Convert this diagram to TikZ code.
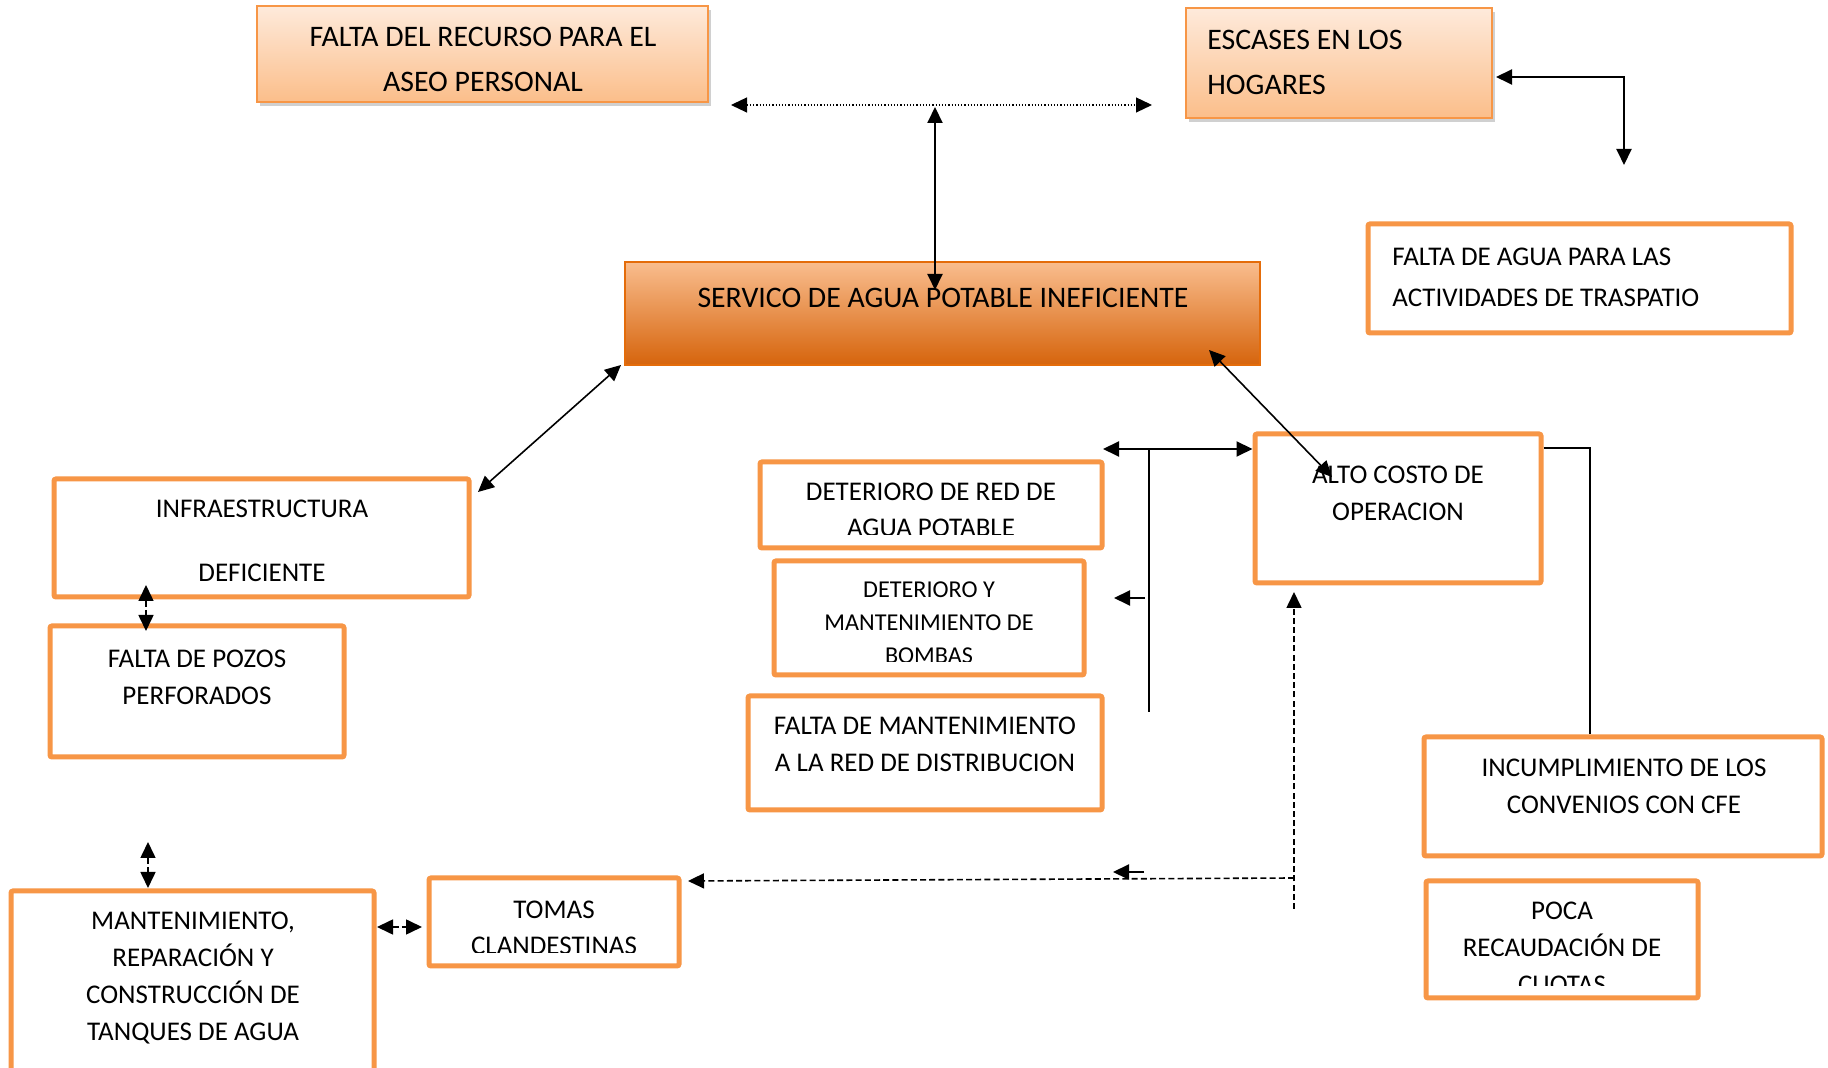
\documentclass[tikz,border=0pt]{standalone}
\usepackage{fontspec}
\setmainfont{Carlito}
\usetikzlibrary{arrows.meta,fit,calc,shadows}
\definecolor{bor}{HTML}{F79646}
\definecolor{ltop}{HTML}{FEEADB}
\definecolor{lbot}{HTML}{FBBE8A}
\definecolor{dtop}{HTML}{F9BD8E}
\definecolor{dbot}{HTML}{D6640C}
\definecolor{dbor}{HTML}{E46C0A}
\tikzset{
  wbox/.style={draw=bor, line width=2.5pt, fill=white, inner sep=0pt, rounded corners=1pt},
  gbox/.style={draw=bor, line width=1pt, top color=ltop, bottom color=lbot, inner sep=0pt,
    drop shadow={shadow xshift=1.5pt, shadow yshift=-2pt, opacity=0.3, fill=black!60}},
  dbox/.style={draw=dbor, line width=1pt, top color=dtop, bottom color=dbot, inner sep=0pt},
  txt/.style={inner sep=0pt, align=center, text=black},
  fA/.style={font=\fontsize{14.9pt}{22.5pt}\selectfont},
  fB/.style={font=\fontsize{13.5pt}{18.5pt}\selectfont},
  conn/.style={draw=black, line width=1pt},
  thinconn/.style={draw=black, line width=0.8pt},
  dconn/.style={draw=black, line width=0.8pt, dash pattern=on 3pt off 1.6pt},
  dotconn/.style={draw=black, line width=0.6pt, densely dotted}
}
\begin{document}
\begin{tikzpicture}[x=0.5pt,y=-0.5pt, >={Triangle[length=8pt,width=7.5pt]}]
\useasboundingbox[fill=white] (0,0) rectangle (1828,1068);

% boxes
\node[gbox, fit={(257,6)(708,102)}] (recurso) {};
\node[gbox, fit={(1186,8)(1492,118)}] (escases) {};
\node[wbox, fit={(1368,224)(1791,333)}] (agua) {};
\node[dbox, fit={(625,262)(1260,365)}] (servico) {};
\node[wbox, fit={(54,479)(469,597)}] (infra) {};
\node[wbox, fit={(50,626)(344,757)}] (pozos) {};
\node[wbox, fit={(11,891)(374,1090)}] (mant) {};
\node[wbox, fit={(429,878)(679,966)}] (tomas) {};
\node[wbox, fit={(760,462)(1102,548)}] (detred) {};
\node[wbox, fit={(774,561)(1084,675)}] (dety) {};
\node[wbox, fit={(748,696)(1102,810)}] (faltamant) {};
\node[wbox, fit={(1255,434)(1541,583)}] (alto) {};
\node[wbox, fit={(1424,737)(1822,856)}] (incump) {};
\node[wbox, fit={(1426,881)(1698,998)}] (poca) {};

% texts
\begin{scope}
\clip (257,6) rectangle (708,93);
\node[txt, fA] (recursoT) at (483,59) {FALTA DEL RECURSO PARA EL\\ASEO PERSONAL};
\end{scope}
\node[txt, fA, align=left, anchor=west] (escasesT) at (1207,62.5) {ESCASES EN LOS\\HOGARES};
\node[txt, font=\fontsize{13.5pt}{20.5pt}\selectfont, align=left, anchor=west] (aguaT) at (1392,277.5) {FALTA DE AGUA PARA LAS\\ACTIVIDADES DE TRASPATIO};
\node[txt, fA] (servicoT) at (943,298) {SERVICO DE AGUA POTABLE INEFICIENTE};
\node[txt, font=\fontsize{13.5pt}{16pt}\selectfont] (infraT) at (262,541) {INFRAESTRUCTURA\\[16pt]DEFICIENTE};
\node[txt, fB] (pozosT) at (197,677.5) {FALTA DE POZOS\\PERFORADOS};
\node[txt, fB] (mantT) at (193,978) {MANTENIMIENTO,\\REPARACIÓN Y\\CONSTRUCCIÓN DE\\TANQUES DE AGUA};
\begin{scope}
\clip (429,878) rectangle (679,953);
\node[txt, font=\fontsize{13.5pt}{18pt}\selectfont] (tomasT) at (554,928) {TOMAS\\CLANDESTINAS};
\end{scope}
\begin{scope}
\clip (760,462) rectangle (1102,535);
\node[txt, font=\fontsize{13.5pt}{18pt}\selectfont] (detredT) at (931,510) {DETERIORO DE RED DE\\AGUA POTABLE};
\end{scope}
\begin{scope}
\clip (774,561) rectangle (1084,662);
\node[txt, font=\fontsize{12.1pt}{16.5pt}\selectfont] (detyT) at (929,623) {DETERIORO Y\\MANTENIMIENTO DE\\BOMBAS};
\end{scope}
\node[txt, fB] (faltamantT) at (925,744.5) {FALTA DE MANTENIMIENTO\\A LA RED DE DISTRIBUCION};
\node[txt, fB] (altoT) at (1398,493.5) {ALTO COSTO DE\\OPERACION};
\node[txt, fB] (incumpT) at (1624,786.5) {INCUMPLIMIENTO DE LOS\\CONVENIOS CON CFE};
\begin{scope}
\clip (1426,881) rectangle (1698,986);
\node[txt, fB] (pocaT) at (1562,948) {POCA\\RECAUDACIÓN DE\\CUOTAS};
\end{scope}

% connectors
\coordinate (dotL) at (731,105);
\coordinate (dotR) at (1152,105);
\draw[dotconn,<->] (dotL) -- (dotR);
\coordinate (vTop) at (935,107);
\coordinate (vBot) at (935,290);
\draw[conn,<->] (vTop) -- (vBot);
\coordinate (eCorner) at (1624,77);
\coordinate (eDown) at (1624,165);
\draw[conn,<->,shorten <=1.5pt] (escases.east |- eCorner) -- (eCorner) -- (eDown);
\coordinate (d1a) at (621,365);
\coordinate (d1b) at (478,492);
\draw[thinconn,<->] (d1a) -- (d1b);
\coordinate (d2a) at (1209,350);
\coordinate (d2b) at (1332,477);
\draw[thinconn,<->] (d2a) -- (d2b);
\coordinate (hL) at (1103,449);
\coordinate (hJ) at (1149,449);
\coordinate (hB) at (1149,712);
\draw[conn,<->] (hL) -- (alto.west |- hL);
\draw[conn] (hJ) -- (hB);
\coordinate (s1a) at (1145,598);
\coordinate (s1b) at (1114,598);
\draw[conn,->] (s1a) -- (s1b);
\coordinate (aR) at (1590,448);
\draw[conn] (alto.east |- aR) -- (aR) -- (aR |- incump.north);
\coordinate (dvB) at (1294,909);
\coordinate (dvT) at (1294,592);
\draw[dconn,->] (dvB) -- (dvT);
\coordinate (dlR) at (1294,878);
\coordinate (dlL) at (688,881);
\draw[dconn,->] (dlR) -- (dlL);
\coordinate (s2a) at (1144,872);
\coordinate (s2b) at (1113,872);
\draw[conn,->] (s2a) -- (s2b);
\coordinate (ip1) at (146,585);
\coordinate (ip2) at (146,631);
\draw[dconn,<->] (ip1) -- (ip2);
\coordinate (mt1) at (148,842);
\coordinate (mt2) at (148,888);
\draw[dconn,<->] (mt1) -- (mt2);
\coordinate (mx1) at (377,927);
\coordinate (mx2) at (422,927);
\draw[dconn,<->] (mx1) -- (mx2);
\end{tikzpicture}
\end{document}
